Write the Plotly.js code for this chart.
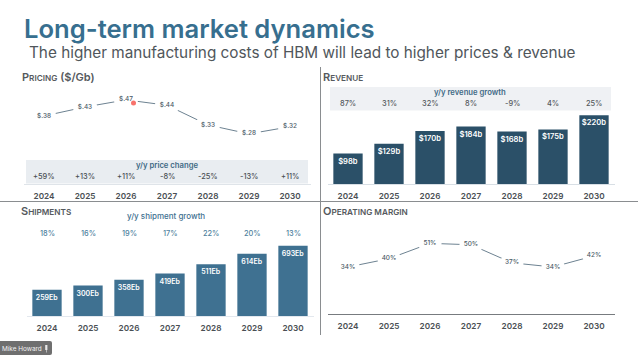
<!DOCTYPE html>
<html><head><meta charset="utf-8">
<script src="https://cdn.plot.ly/plotly-3.0.1.min.js"></script>
<style>html,body{margin:0;padding:0;background:#fff}#c{width:638px;height:358px}</style>
</head><body><div id="c"></div>
<script>
const years = ['2024','2025','2026','2027','2028','2029','2030'];
const price = [0.38,0.43,0.47,0.44,0.33,0.28,0.32];
const priceLabels = ['$.38','$.43','$.47','$.44','$.33','$.28','$.32'];
const priceChange = ['+59%','+13%','+11%','-8%','-25%','-13%','+11%'];
const revenue = [98,129,170,184,168,175,220];
const revenueLabels = ['$98b','$129b','$170b','$184b','$168b','$175b','$220b'];
const revenueGrowth = ['87%','31%','32%','8%','-9%','4%','25%'];
const shipments = [259,300,358,419,511,614,693];
const shipmentLabels = ['259Eb','300Eb','358Eb','419Eb','511Eb','614Eb','693Eb'];
const shipmentGrowth = ['18%','16%','19%','17%','22%','20%','13%'];
const margin = [34,40,51,50,37,34,42];
const marginLabels = ['34%','40%','51%','50%','37%','34%','42%'];

const W=638,H=358, F='Inter, "Open Sans", sans-serif';
const px=x=>x/W, py=y=>1-y/H;
const DARK='#2b5068', MID='#3f7191', TICK='#4a4f54';

function lineTrace(xa,ya,y,t,size){return {type:'scatter',mode:'lines+markers+text',x:years,y:y,text:t,xaxis:xa,yaxis:ya,
  textposition:'middle center',cliponaxis:false,hoverinfo:'skip',
  line:{color:'#6d8291',width:1},marker:{color:'#ffffff',size:size,line:{width:0}},
  textfont:{family:F,size:6.4,color:'#4a5a66',weight:500}};}
function barTrace(xa,ya,y,t,c,fs){return {type:'bar',x:years,y:y,text:t,xaxis:xa,yaxis:ya,width:0.715,
  marker:{color:c},textposition:'inside',insidetextanchor:'end',textangle:0,constraintext:'none',hoverinfo:'skip',
  insidetextfont:{family:F,size:fs,color:'#ffffff',weight:600}};}

const data=[
  lineTrace('x','y',price,priceLabels,24),
  barTrace('x2','y2',revenue,revenueLabels,DARK,7.6),
  barTrace('x3','y3',shipments,shipmentLabels,MID,7),
  lineTrace('x4','y4',margin,marginLabels,23)
];

function xa(l,r,anchor,lc,lw,st){return {domain:[px(l),px(r)],range:[-0.5,6.5],type:'category',anchor:anchor,fixedrange:true,
  showgrid:false,zeroline:false,showline:true,linecolor:lc,linewidth:lw,ticks:'',ticklabelstandoff:st,
  tickfont:{family:F,size:8.2,color:TICK,weight:600}};}
function ya(b,t,top,anchor){return {domain:[py(b),py(t)],range:[0,top],anchor:anchor,visible:false,fixedrange:true};}

const ann=[];
function txt(x,y,text,size,color,opt){ann.push(Object.assign({xref:'paper',yref:'paper',x:px(x),y:py(y),text:text,showarrow:false,
  xanchor:'center',yanchor:'middle',borderpad:0,font:{family:F,size:size,color:color}},opt||{}));}
function row(axis,y,vals,size,color,weight){vals.forEach((v,i)=>ann.push({xref:axis,yref:'paper',x:i,y:py(y),text:v,showarrow:false,
  xanchor:'center',yanchor:'middle',font:{family:F,size:size,color:color,weight:weight||500}}));}
function heading(x,y,big,small,rest){
  txt(x,y,'<span style="font-size:11px">'+big+'</span>'+small+(rest||''),8.2,'#55595d',{xanchor:'left',font:{family:F,size:8.2,color:'#55595d',weight:600}});
}

txt(22.5,28,'Long-term market dynamics',25.6,'#376f8f',{xanchor:'left',font:{family:F,size:25.6,color:'#376f8f',weight:600}});
txt(27.5,52.5,'The higher manufacturing costs of HBM will lead to higher prices &amp; revenue',15.3,'#50565b',{xanchor:'left'});

heading(21,77,'P','RICING','<span style="font-size:11px"> ($/Gb)</span>');
heading(322,77,'R','EVENUE');
heading(20,211,'S','HIPMENTS');
heading(322,211,'O','PERATING MARGIN');

txt(167,165,'y/y price change',7.7,'#3f6a85',{font:{family:F,size:7.7,color:'#3f6a85',weight:600}});
row('x',177,priceChange,7.4,'#4a4f54');
txt(470,93,'y/y revenue growth',7.7,'#3f6a85',{font:{family:F,size:7.7,color:'#3f6a85',weight:600}});
row('x2',103,revenueGrowth,7.4,'#55595d');
txt(166,216,'y/y shipment growth',8,'#3f7191',{font:{family:F,size:8,color:'#3f7191',weight:500}});
row('x3',233,shipmentGrowth,7.4,'#4f7f9e');

txt(22,348.5,'Mike Howard',6.4,'#f2f2f2',{});

const rect=(x0,y0,x1,y1,fill,extra)=>Object.assign({type:'rect',xref:'paper',yref:'paper',x0:px(x0),x1:px(x1),y0:py(y0),y1:py(y1),fillcolor:fill,line:{width:0},layer:'below'},extra||{});
const shapes=[
  rect(26,160,308,183.5,'#e9edf1'),
  rect(330,87,611,110.5,'#eff1f4'),
  {type:'line',xref:'paper',yref:'paper',x0:0,x1:1,y0:py(201.5),y1:py(201.5),line:{color:'#8a8d90',width:1}},
  {type:'line',xref:'paper',yref:'paper',x0:px(320.5),x1:px(320.5),y0:py(67),y1:py(335),line:{color:'#8a8d90',width:1}},
  {type:'circle',xref:'paper',yref:'paper',x0:px(131),x1:px(136),y0:py(100.5),y1:py(105.5),fillcolor:'#f8736c',line:{width:0},layer:'above'},
  {type:'path',xref:'paper',yref:'paper',path:`M ${px(2)} ${py(341)} L ${px(50)} ${py(341)} Q ${px(52)} ${py(341)} ${px(52)} ${py(343)} L ${px(52)} ${py(353)} Q ${px(52)} ${py(355)} ${px(50)} ${py(355)} L ${px(0)} ${py(355)} L ${px(0)} ${py(341)} Z`,fillcolor:'#6f6f6f',line:{width:0},layer:'below'},
  rect(45.2,345,47.4,350,'#e8e8e8',{layer:'above'}),
  rect(46,350,46.6,352.5,'#e8e8e8',{layer:'above'})
];

const layout={width:W,height:H,margin:{l:0,r:0,t:0,b:0},paper_bgcolor:'#ffffff',plot_bgcolor:'rgba(0,0,0,0)',showlegend:false,
  xaxis:xa(23.5,310.5,'y','#dfe4e9',1,4), yaxis:ya(184,74,0.6145,'x'),
  xaxis2:xa(327.5,614.5,'y2','#d8dfe5',1,4), yaxis2:ya(184.3,100,268.8,'x2'),
  xaxis3:xa(26.5,313.5,'y3','#e3e8ee',1,4), yaxis3:ya(316,230,848,'x3'),
  xaxis4:xa(327.5,614.5,'y4','#777b7f',1,4), yaxis4:ya(314.3,230,60.6,'x4'),
  annotations:ann,shapes:shapes};
Plotly.newPlot('c',data,layout,{displayModeBar:false,staticPlot:true});
</script></body></html>
